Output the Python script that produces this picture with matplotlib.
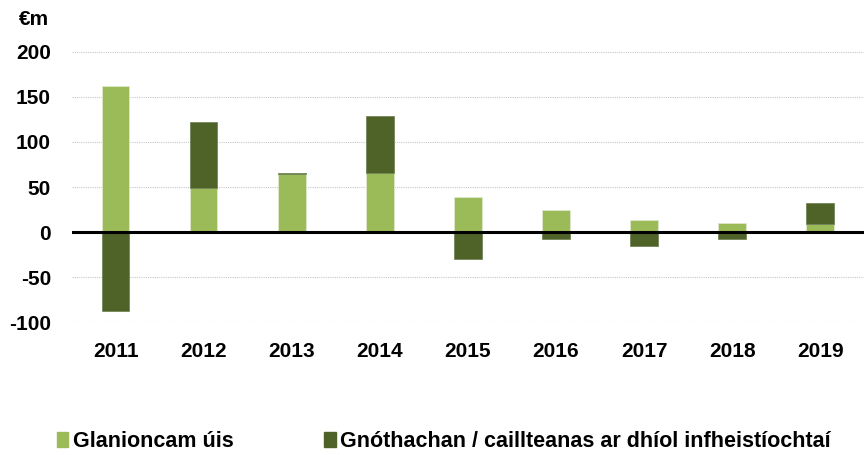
import matplotlib
matplotlib.use("Agg")
import matplotlib.pyplot as plt
from matplotlib.patches import Patch

YEARS = ["2011", "2012", "2013", "2014", "2015", "2016", "2017", "2018", "2019"]
NET_INTEREST = [162, 49, 64, 66, 39, 25, 13, 10, 9]          # Glanioncam úis
GAINS_LOSSES = [-88, 73, 2, 63, -30, -8, -15, -8, 23]         # Gnóthachan / caillteanas
LEGEND_LABELS = ["Glanioncam úis", "Gnóthachan / caillteanas ar dhíol infheistíochtaí"]
Y_TICKS = [-100, -50, 0, 50, 100, 150, 200]

LIGHT = "#9BBB59"
DARK = "#4F6228"
FS = 15

plt.rcParams["font.family"] = ["Liberation Sans", "DejaVu Sans"]
plt.rcParams["font.weight"] = "bold"

fig = plt.figure(figsize=(8.65, 4.55), dpi=100)
ax = fig.add_axes([0.083, 0.292, 0.916, 0.594])

x = list(range(len(YEARS)))
w = 0.31
ax.bar(x, NET_INTEREST, width=w, color=LIGHT, edgecolor="#dfe8cc", linewidth=0.6, zorder=3)
# dark segment sits on top of the light one when positive, hangs below zero when negative
dark_bottom = [n if g > 0 else 0 for n, g in zip(NET_INTEREST, GAINS_LOSSES)]
ax.bar(x, GAINS_LOSSES, bottom=dark_bottom, width=w, color=DARK,
       edgecolor="#6b7d4c", linewidth=0.5, zorder=3)

ax.axhline(0, color="black", linewidth=2.2, zorder=4)
ax.set_ylim(-100, 200)
ax.set_xlim(-0.5, len(YEARS) - 0.5)
ax.set_yticks(Y_TICKS)
ax.set_yticklabels([str(v) for v in Y_TICKS])
ax.set_xticks(x)
ax.set_xticklabels(YEARS)
ax.tick_params(length=0, labelsize=FS, pad=15)
ax.tick_params(axis="x", pad=14)
for lbl in ax.get_xticklabels() + ax.get_yticklabels():
    lbl.set_fontweight("bold")
ax.yaxis.grid(True, color="#c8c8c8", linestyle=(0, (1, 1)), linewidth=0.8, zorder=0)
for s in ax.spines.values():
    s.set_visible(False)

fig.text(0.022, 0.958, "€m", fontsize=FS, fontweight="bold", va="center")

handles = [Patch(color=LIGHT), Patch(color=DARK)]
fig.legend(handles, LEGEND_LABELS, loc="center left", bbox_to_anchor=(0.043, 0.03),
           ncol=2, frameon=False, handlelength=0.55, handleheight=0.7,
           handletextpad=0.2, columnspacing=4.2, prop={"weight": "bold", "size": 15.5})

fig.savefig("out.png", dpi=100)
